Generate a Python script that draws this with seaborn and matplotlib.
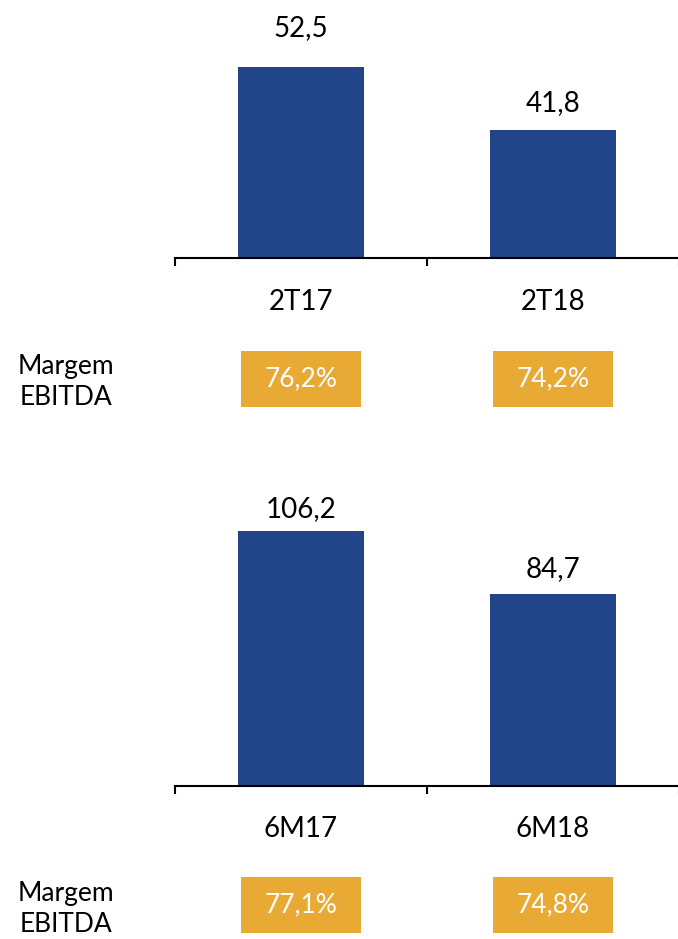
import matplotlib
matplotlib.use("Agg")
import matplotlib.pyplot as plt
import seaborn as sns
import pandas as pd
from matplotlib.patches import Rectangle

# EBITDA (R$ milhões) e margem EBITDA por período
quarter_periods = ["2T17", "2T18"]
quarter_ebitda = [52.5, 41.8]
quarter_margin = [76.2, 74.2]

half_periods = ["6M17", "6M18"]
half_ebitda = [106.2, 84.7]
half_margin = [77.1, 74.8]

BLUE = "#22458A"
GOLD = "#E8A935"

sns.set_theme(style="white")
plt.rcParams["font.family"] = ["Lato", "DejaVu Sans"]

W, H = 678, 939
fig = plt.figure(figsize=(W / 100, H / 100), dpi=100)


def px_axes(x0, y0, x1, y1):
    return fig.add_axes([x0 / W, 1 - y1 / H, (x1 - x0) / W, (y1 - y0) / H])


def fmt(v, d=1):
    return f"{v:.{d}f}".replace(".", ",")


def bar_panel(top, base, y_top, periods, values, pads):
    ax = px_axes(175, top, 679, base)
    df = pd.DataFrame({"periodo": periods, "ebitda": values})
    sns.barplot(data=df, x="periodo", y="ebitda", color=BLUE, width=0.5,
                saturation=1, linewidth=0, ax=ax)
    ax.set_xlim(-0.5, 1.5)
    ax.set_ylim(20, y_top)
    ax.set_xlabel("")
    ax.set_ylabel("")
    ax.set_yticks([])
    for side in ("top", "right", "left"):
        ax.spines[side].set_visible(False)
    ax.spines["bottom"].set_color("black")
    ax.spines["bottom"].set_linewidth(1.5)
    ax.set_xticks([-0.5, 0.5, 1.5])
    ax.set_xticklabels([])
    ax.tick_params(axis="x", which="major", bottom=True, length=6, width=1.5,
                   color="black", direction="out")
    ax.set_xticks([0, 1], minor=True)
    ax.set_xticklabels(periods, minor=True)
    ax.tick_params(axis="x", which="minor", bottom=True, length=0, pad=22,
                   labelsize=20, labelcolor="black")
    for p, v, pad in zip(ax.patches, values, pads):
        ax.annotate(fmt(v), (p.get_x() + p.get_width() / 2, v),
                    xytext=(0, pad), textcoords="offset pixels",
                    ha="center", va="baseline", fontsize=20, color="black",
                    annotation_clip=False)
    return ax


def margin_row(top, bottom, margins, label_y):
    ax = px_axes(175, top, 679, bottom)
    ax.set_xlim(-0.5, 1.5)
    ax.set_ylim(0, 1)
    ax.axis("off")
    for i, m in enumerate(margins):
        ax.add_patch(Rectangle((i - 0.24, 0), 0.48, 1, color=GOLD, lw=0))
        ax.text(i, 0.5, fmt(m) + "%", color="white", ha="center", va="center",
                fontsize=19)
    fig.text(66 / W, 1 - label_y / H, "Margem\nEBITDA", ha="center",
             va="center", multialignment="center", fontsize=19,
             color="black", linespacing=1.3)


bar_panel(10, 258, 62.1, quarter_periods, quarter_ebitda, [31, 19])
margin_row(351, 407, quarter_margin, 382)

bar_panel(470, 785.5, 126.8, half_periods, half_ebitda, [14, 17])
margin_row(877, 933, half_margin, 909)

fig.savefig("out.png", dpi=100)
